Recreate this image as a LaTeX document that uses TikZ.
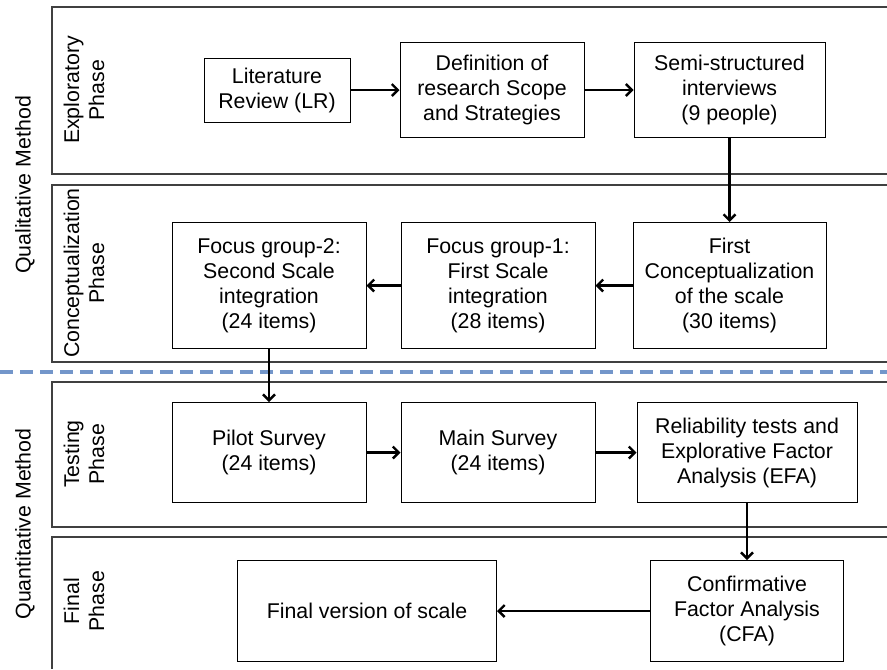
\documentclass[tikz,border=0pt]{standalone}
\usepackage{fontspec}
\setmainfont{Liberation Sans}
\usetikzlibrary{arrows.meta, positioning}
\definecolor{dashblue}{RGB}{115,150,202}
\tikzset{
    stepbox/.style={
        draw, rectangle, line width=0.75pt, align=center, fill=white, text=black, inner sep=2pt, font=\fontsize{16}{18.75}\selectfont
    },
    phaseband/.style={
        draw=black!75, line width=1pt
    },
    phaselabel/.style={
        rotate=90, align=center, text=black, font=\fontsize{16}{18.75}\selectfont
    },
    sepline/.style={
        draw=dashblue, line width=2.8pt, dash pattern=on 9.5pt off 5.5pt
    },
    arrow/.style={
        line width=1.8pt, -{Straight Barb[length=4.5pt,width=9pt]}
    }
}

\begin{document}
\begin{tikzpicture}[x=0.75pt, y=-0.75pt]

    \useasboundingbox (0,0) rectangle (887,669);

    % phase bands
    \draw [phaseband] (887,7) -- (52,7) -- (52,174) -- (887,174);
    \draw [phaseband] (887,185) -- (52,185) -- (52,362) -- (887,362);
    \draw [phaseband] (887,382) -- (52,382) -- (52,527) -- (887,527);
    \draw [phaseband] (887,537) -- (52,537) -- (52,669);
    \draw [sepline] (0,372) -- (887,372);

    % labels
    \node (quali) [phaselabel] at (25,185) {Qualitative Method};
    \node (quanti) [phaselabel] at (25,524) {Quantitative Method};
    \node (explo) [phaselabel] at (84,90) {Exploratory\\Phase};
    \node (concept) [phaselabel] at (84,273) {Conceptualization\\Phase};
    \node (testing) [phaselabel] at (84,454) {Testing\\Phase};
    \node (final) [phaselabel] at (84,601) {Final\\Phase};

    % boxes
    \node (lit) [stepbox, minimum width=109.5pt, minimum height=48pt] at (277,90) {Literature\\Review (LR)};
    \node (scope) [stepbox, right=36.75pt of lit, minimum width=138pt, minimum height=71.25pt] {Definition of\\research Scope\\and Strategies};
    \node (interviews) [stepbox, right=36.75pt of scope, minimum width=143.25pt, minimum height=71.25pt] {Semi-structured\\interviews\\(9 people)};
    \node (firstconc) [stepbox, below=63pt of interviews, minimum width=144.75pt, minimum height=94.5pt] {First\\Conceptualization\\of the scale\\(30 items)};
    \node (focusone) [stepbox, left=27.75pt of firstconc, minimum width=145.5pt, minimum height=94.5pt] {Focus group-1:\\First Scale\\integration\\(28 items)};
    \node (focustwo) [stepbox, left=25.5pt of focusone, minimum width=145.5pt, minimum height=94.5pt] {Focus group-2:\\Second Scale\\integration\\(24 items)};
    \node (pilot) [stepbox, below=39.75pt of focustwo, minimum width=145.5pt, minimum height=75pt] {Pilot Survey\\(24 items)};
    \node (mainsurvey) [stepbox, right=25.5pt of pilot, minimum width=145.5pt, minimum height=75pt] {Main Survey\\(24 items)};
    \node (efa) [stepbox, right=30.75pt of mainsurvey, minimum width=165pt, minimum height=75pt] {Reliability tests and\\Explorative Factor\\Analysis (EFA)};
    \node (cfa) [stepbox, below=42.75pt of efa, minimum width=144.75pt, minimum height=75.75pt] {Confirmative\\Factor Analysis\\(CFA)};
    \node (finalscale) [stepbox, left=114.75pt of cfa, minimum width=194.25pt, minimum height=75.75pt] {Final version of scale};

    % arrows
    \draw [arrow] (lit) -- (scope);
    \draw [arrow] (scope) -- (interviews);
    \draw [arrow] (interviews) -- (firstconc);
    \draw [arrow] (firstconc) -- (focusone);
    \draw [arrow] (focusone) -- (focustwo);
    \draw [arrow] (focustwo) -- (pilot);
    \draw [arrow] (pilot) -- (mainsurvey);
    \draw [arrow] (mainsurvey) -- (efa);
    \draw [arrow] (efa) -- (cfa);
    \draw [arrow] (cfa) -- (finalscale);

\end{tikzpicture}
\end{document}
